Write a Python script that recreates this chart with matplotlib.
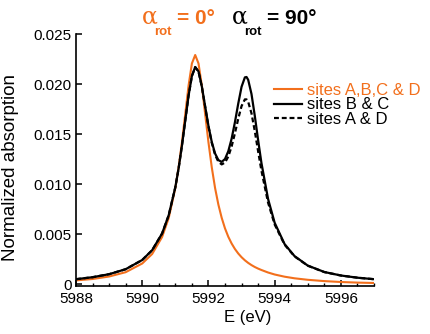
import matplotlib
matplotlib.use('Agg')
import matplotlib.pyplot as plt
from matplotlib.ticker import MultipleLocator, FuncFormatter

# energias (eV) y absorcion normalizada
energy = [5988.0, 5988.5, 5989.0, 5989.5, 5990.0, 5990.3, 5990.6, 5990.8,
          5991.0, 5991.1, 5991.2, 5991.3, 5991.4, 5991.5, 5991.6, 5991.7,
          5991.8, 5991.9, 5992.0, 5992.1, 5992.2, 5992.3, 5992.4, 5992.5,
          5992.6, 5992.7, 5992.8, 5992.9, 5993.0, 5993.1, 5993.15, 5993.2,
          5993.3, 5993.4, 5993.5, 5993.6, 5993.8, 5994.0, 5994.3, 5994.6,
          5995.0, 5995.5, 5996.0, 5996.5, 5997.0]

sites_abcd = [0.00036, 0.00050, 0.00075, 0.00118, 0.00205, 0.00300, 0.00470, 0.00660,
              0.00960, 0.01168, 0.01418, 0.01701, 0.01985, 0.02205, 0.02290, 0.02205,
              0.01985, 0.01701, 0.01418, 0.01168, 0.00960, 0.00794, 0.00662, 0.00556,
              0.00472, 0.00405, 0.00350, 0.00305, 0.00268, 0.00237, 0.00224, 0.00211,
              0.00189, 0.00170, 0.00154, 0.00140, 0.00115, 0.00095, 0.00073, 0.00057,
              0.00042, 0.00029, 0.00020, 0.00014, 0.00010]

sites_bc = [0.00048, 0.00068, 0.00098, 0.00148, 0.00240, 0.00338, 0.00505, 0.00688,
            0.00968, 0.01158, 0.01384, 0.01635, 0.01884, 0.02080, 0.02170, 0.02126,
            0.01976, 0.01778, 0.01582, 0.01421, 0.01305, 0.01239, 0.01221, 0.01250,
            0.01328, 0.01453, 0.01618, 0.01804, 0.01972, 0.02066, 0.02070, 0.02042,
            0.01900, 0.01681, 0.01439, 0.01211, 0.00851, 0.00612, 0.00399, 0.00279,
            0.00184, 0.00120, 0.00085, 0.00063, 0.00048]

sites_ad = [0.00048, 0.00068, 0.00098, 0.00148, 0.00240, 0.00338, 0.00505, 0.00688,
            0.00968, 0.01158, 0.01384, 0.01635, 0.01883, 0.02079, 0.02168, 0.02124,
            0.01973, 0.01773, 0.01576, 0.01412, 0.01293, 0.01222, 0.01196, 0.01214,
            0.01275, 0.01376, 0.01508, 0.01653, 0.01779, 0.01846, 0.01846, 0.01822,
            0.01707, 0.01529, 0.01328, 0.01134, 0.00815, 0.00595, 0.00393, 0.00276,
            0.00183, 0.00119, 0.00085, 0.00063, 0.00048]

orange = '#f26f1c'

plt.rcParams['font.family'] = ['Liberation Sans', 'DejaVu Sans']
plt.rcParams['font.size'] = 11

fig = plt.figure(figsize=(4.31, 3.34), dpi=100)
ax = fig.add_axes([76 / 431, 48 / 334, 298 / 431, 252 / 334])

ax.plot(energy, sites_abcd, color=orange, lw=1.5, label='sites A,B,C & D')
ax.plot(energy, sites_bc, color='black', lw=1.6, label='sites B & C')
ax.plot(energy, sites_ad, color='black', lw=1.6, ls=(0, (2.2, 1.3)), label='sites A & D')

ax.set_xlim(5988, 5997)
ax.set_ylim(-0.0002, 0.025)

ax.spines['top'].set_visible(False)
ax.spines['right'].set_visible(False)
ax.spines['left'].set_linewidth(1.2)
ax.spines['bottom'].set_linewidth(1.2)

ax.xaxis.set_major_locator(MultipleLocator(2))
ax.xaxis.set_minor_locator(MultipleLocator(0.5))
ax.yaxis.set_major_locator(MultipleLocator(0.005))
ax.yaxis.set_major_formatter(FuncFormatter(lambda v, p: '0' if abs(v) < 1e-9 else f'{v:.3f}'))
ax.tick_params(which='major', direction='in', length=4, width=1.1, pad=4)
ax.tick_params(which='minor', direction='in', length=2.5, width=1.0)
ax.tick_params(axis='y', pad=3)

ax.set_xlabel('E (eV)', fontsize=12)
ax.xaxis.set_label_coords(0.577, -0.095)
ax.set_ylabel('Normalized absorption', fontsize=13.5)
ax.yaxis.set_label_coords(-0.19, 0.47)

ax.legend(loc='upper left', bbox_to_anchor=(274 / 431, 1 - 83 / 334),
          bbox_transform=fig.transFigure, frameon=False, labelcolor='linecolor',
          prop={'size': 12}, handlelength=1.7, handletextpad=0.3, labelspacing=-0.04,
          borderpad=0, borderaxespad=0)

# titulo en dos partes
def title_part(x, color, value):
    fig.text(x / 431, 1 - 24 / 334, '\u03b1', color=color, fontsize=17, ha='left', va='baseline',
             family=['DejaVu Serif'])
    fig.text((x + 12) / 431, 1 - 35 / 334, 'rot', color=color, fontsize=9.5, weight='bold',
             ha='left', va='baseline')
    fig.text((x + 35) / 431, 1 - 24 / 334, value, color=color, fontsize=15, weight='bold',
             ha='left', va='baseline')

title_part(142, orange, '= 0\u00b0')
title_part(232, 'black', '= 90\u00b0')

plt.savefig('out.png', dpi=100)
